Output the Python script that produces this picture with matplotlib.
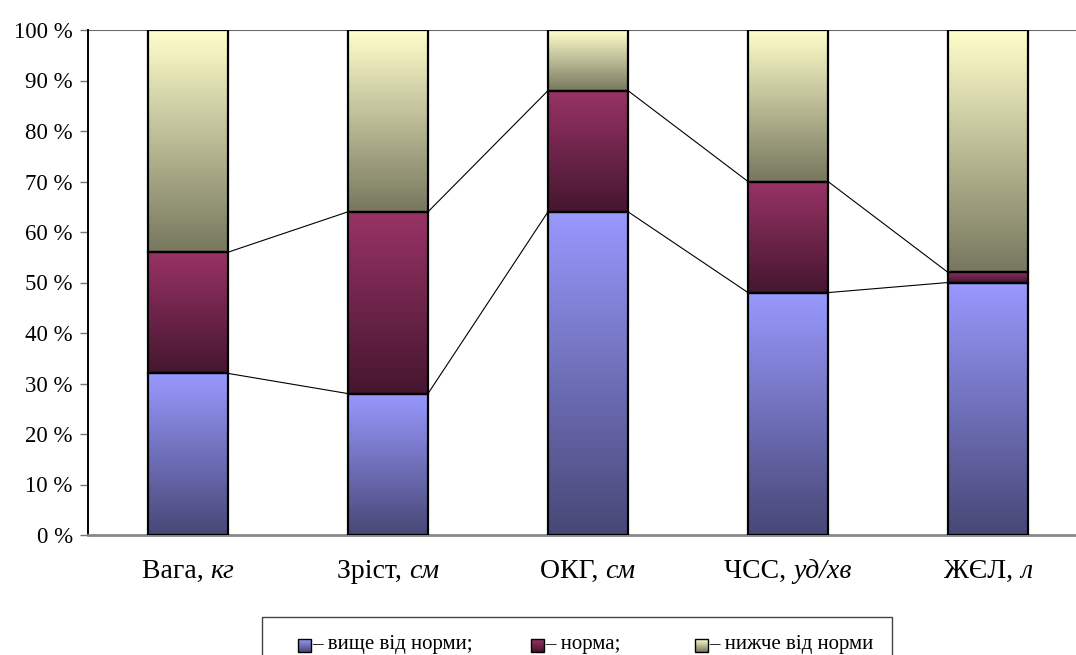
import numpy as np
import matplotlib
matplotlib.use('Agg')
import matplotlib.pyplot as plt
from matplotlib.colors import LinearSegmentedColormap
from matplotlib.patches import Rectangle
from matplotlib.transforms import blended_transform_factory, offset_copy

# --- data -------------------------------------------------------------
categories = ['Вага', 'Зріст', 'ОКГ', 'ЧСС', 'ЖЄЛ']
units = ['кг', 'см', 'см', 'уд/хв', 'л']
above_norm = [32, 28, 64, 48, 50]
within_norm = [24, 36, 24, 22, 2]
below_norm = [44, 36, 12, 30, 48]
series_names = ['– вище від норми;', '– норма;', '– нижче від норми']
y_ticks = list(range(0, 101, 10))

# gradient colours per series: (bottom, top)
grad_colors = [('#474776', '#9999FF'),
               ('#45162F', '#993366'),
               ('#77775F', '#FFFFCC')]

plt.rcParams['font.family'] = ['Liberation Serif', 'DejaVu Serif']

W, H = 1076, 655
fig = plt.figure(figsize=(W / 100, H / 100), dpi=100)
ax = fig.add_axes([88 / W, 120 / H, 1000 / W, 505 / H])

bar_w = 0.4
x = np.arange(len(categories))
series = [above_norm, within_norm, below_norm]
cmaps = [LinearSegmentedColormap.from_list(f'g{k}', c) for k, c in enumerate(grad_colors)]
grad = np.linspace(0, 1, 256).reshape(-1, 1)

bottoms = np.zeros(len(categories))
levels = []
for k, vals in enumerate(series):
    vals = np.asarray(vals, dtype=float)
    for i in range(len(categories)):
        if vals[i] <= 0:
            continue
        x0, x1 = x[i] - bar_w / 2, x[i] + bar_w / 2
        y0, y1 = bottoms[i], bottoms[i] + vals[i]
        ax.imshow(grad, cmap=cmaps[k], origin='lower', aspect='auto',
                  extent=(x0, x1, y0, y1), interpolation='bilinear', zorder=2)
        ax.add_patch(Rectangle((x0, y0), bar_w, vals[i], fill=False,
                               edgecolor='black', linewidth=1.6, zorder=3))
    bottoms = bottoms + vals
    levels.append(bottoms.copy())

# series lines joining the bar segments
for lev in levels[:2]:
    for i in range(len(categories) - 1):
        ax.plot([x[i] + bar_w / 2, x[i + 1] - bar_w / 2], [lev[i], lev[i + 1]],
                color='black', linewidth=0.8, zorder=1)

ax.set_xlim(-0.5, len(categories) - 0.5)
ax.set_ylim(0, 100)
ax.axhline(100, color='#6a6a6a', linewidth=1.5, zorder=1)

for s in ['top', 'right']:
    ax.spines[s].set_visible(False)
ax.spines['left'].set_color('black')
ax.spines['left'].set_linewidth(1.4)
ax.spines['bottom'].set_color('#888888')
ax.spines['bottom'].set_linewidth(2)

ax.set_yticks(y_ticks)
ax.set_yticklabels([f'{v} %' for v in y_ticks], fontsize=16.5)
ax.tick_params(axis='y', direction='out', length=6, width=1, color='#777777', pad=5)
ax.set_xticks([])

# category labels: name in upright type, unit in italics
base = blended_transform_factory(ax.transData, ax.transAxes)
label_y = -0.085
pairs = []
for i, (c, u) in enumerate(zip(categories, units)):
    t1 = ax.text(x[i], label_y, c + ', ', transform=base, ha='left', va='baseline',
                 fontsize=20)
    t2 = ax.text(x[i], label_y, u, transform=base, ha='left', va='baseline',
                 fontsize=20, style='italic')
    pairs.append((t1, t2))

fig.canvas.draw()
r = fig.canvas.get_renderer()
for t1, t2 in pairs:
    w1 = t1.get_window_extent(r).width
    w2 = t2.get_window_extent(r).width
    tot = w1 + w2
    t1.set_transform(offset_copy(base, fig=fig, x=-tot / 2, units='dots'))
    t2.set_transform(offset_copy(base, fig=fig, x=-tot / 2 + w1, units='dots'))

# legend box
lax = fig.add_axes([0, 0, 1, 1])
lax.patch.set_visible(False)
lax.axis('off')
lax.add_patch(Rectangle((262, 617), 630, 60, fill=False, edgecolor='#444444',
                        linewidth=1.0))
sq_x = [298, 531, 695]
sq = 13
legend_grad = np.linspace(1, 0, 64).reshape(-1, 1)
for k, (sx, name) in enumerate(zip(sq_x, series_names)):
    lax.imshow(legend_grad, cmap=cmaps[k], origin='upper', aspect='auto',
               extent=(sx, sx + sq, 639 + sq, 639), interpolation='bilinear')
    lax.add_patch(Rectangle((sx, 639), sq, sq, fill=False, edgecolor='black',
                            linewidth=1.0))
    lax.text(sx + sq + 1, 645, name, ha='left', va='center', fontsize=15)
lax.set_xlim(0, W)
lax.set_ylim(H, 0)

fig.savefig('out.png', dpi=100)
